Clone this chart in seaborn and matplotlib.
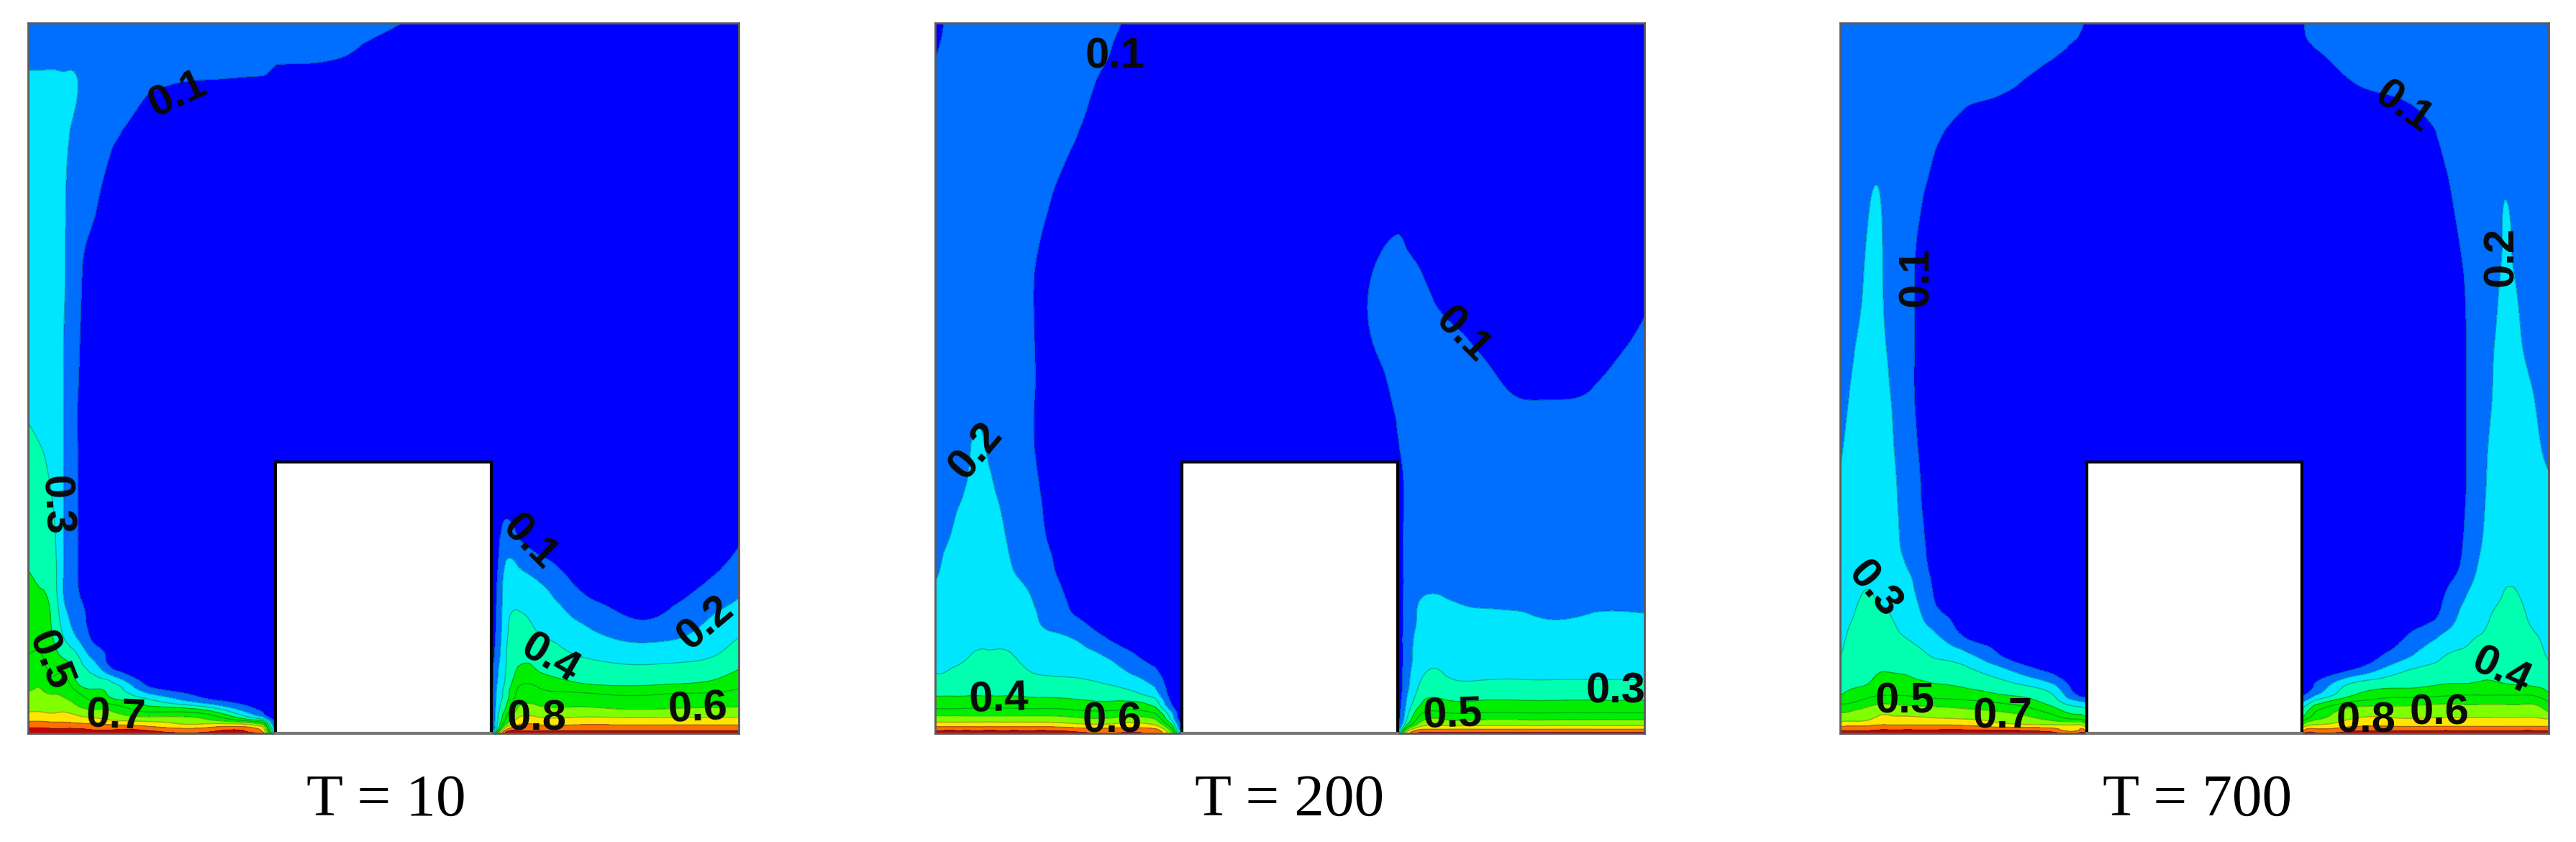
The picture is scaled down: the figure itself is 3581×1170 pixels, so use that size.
import numpy as np
import matplotlib
matplotlib.use("Agg")
import matplotlib.pyplot as plt
from matplotlib.patches import Rectangle
from matplotlib.tri import Triangulation, UniformTriRefiner
import seaborn as sns

sns.set_theme(style="white")

# ---------- data (values in percent) ----------
Y_ROWS = [0, .005, .012, .02, .03, .042, .055, .07, .09, .11, .135, .16, .19, .23, .28,
          .34, .40, .47, .55, .65, .75, .85, .92, .97, 1]

X_T10 = [0, .02, .035, .05, .07, .09, .12, .17, .25, .33, .35, .45, .55, .65, .66, .672,
         .69, .72, .77, .83, .89, .95, 1]
COLS_T10 = [
    [98,93,85,77,70,65,61,57,53,50,47,45,43,40,36,33,31,29,27,26,25,23,21,17,15],
    [98,93,85,77,70,65,61,58,53,50,47,44,41,38,35,33,30,28,26,25,24,23,21,17,14],
    [98,92,84,76,69,64,60,53,48,44,40,38,36,34,32,29,27,26,25,24,24,23,21,17,13],
    [97,92,84,76,70,64,59,55,47,38,30,25,20,20,20,20,20,20,20,21,21,22,21,16,12],
    [97,92,83,74,66,58,52,40,35,30,19,14,11,10,10,10,10,10,11,12,14,17,20,15,12],
    [96,90,82,72,63,53,44,36,27,17,9,8,7,7,7,7,7,7,7,8,11,13,15,13,11],
    [96,90,80,68,60,48,37,31,10,7,6,6,6,6,6,6,6,6,6,6,7,11,13,12,11],
    [95,88,76,65,50,36,21,7,5,5,5,5,5,5,5,5,5,5,5,5,5,7,11,12,11],
    [94,85,72,60,45,20,7,5,5,5,5,5,5,5,5,5,5,5,5,5,5,6,10,11,11],
    [88,78,62,30,10,5,5,5,5,5,5,5,5,5,5,5,5,5,5,5,5,5,9.5,11.5,11],
    [20,8,5,5,5,5,5,5,5,5,5,5,5,5,5,5,5,5,5,5,5,5,8.5,11,11],
    [5,5,5,5,5,5,5,5,5,5,5,5,5,5,5,5,5,5,5,5,5,5,8,10.5,12],
    [5,5,5,5,5,5,5,5,5,5,5,5,5,5,5,5,5,5,5,5,5,5,6,7,9],
    [20,6,5,5,5,5,5,5,5,5,5,5,5,5,5,5,5,5,5,5,5,5,5,5,6],
    [60,35,30,28,26,24,22,20,18,15,13,12,11,9,7,5,5,5,5,5,5,5,5,5,5],
    [92,80,60,50,44,38,35,32,30,29,28,27,25,22,13,7,5,5,5,5,5,5,5,5,5],
    [96,88,80,72,64,58,53,48,41,38,35,32,27,21,9,5,5,5,5,5,5,5,5,5,5],
    [96,88,80,72,64,58,53,47,39,36,31,27,24,15,5,5,5,5,5,5,5,5,5,5,5],
    [96,88,80,72,64,58,52,41,35,30,25,20,13,7,4,4,4,4,4,4,4,4,4,4,4],
    [96,88,80,72,63,56,49,38,32,26,19,12,7,4,4,4,4,4,4,4,4,4,4,4,4],
    [96,88,80,72,63,56,50,39,32,26,18,11,7,4,4,4,4,4,4,4,4,4,4,4,4],
    [96,88,80,72,64,57,51,41,34,28,23,19,13,7,3,3,3,3,3,3,3,3,3,3,3],
    [96,88,80,72,64,58,53,47,40,35,30,25,20,14,8,4,4,4,4,4,4,4,4,4,4],
]

X_T200 = [0, .012, .03, .05, .068, .085, .11, .14, .19, .25, .31, .335, .35, .45, .55, .61,
          .65, .665, .69, .72, .77, .83, .88, .93, 1]
COLS_T200 = [
    [95,88,75,65,54,45,39,34,29,27,26,24,22,19,18,17,16,15,15,15,15,14,12,9,8],
    [95,88,75,65,54,45,39,34,29,27,26,25,23,21,19,18,17,15,15,15,15,15,13,11,10],
    [95,88,75,65,54,45,39,35,31,28,27,26,25,23,21,19,17,16,15,15,15,15,14,13,12],
    [95,88,75,65,54,46,39,35,32,30,27,26,25,24,23,21,20,18,16,15,15,15,14,13,13],
    [95,88,75,65,54,46,39,36,33,31,28,27,26,25,24,22,20.5,18,16,15,15,15,14,13,13],
    [95,88,75,65,54,46,39,36,33,31,28,27,25,24,22,20,18,16,15,15,15,15,14,14,14],
    [95,88,75,65,54,46,39,35,32,30,27,26,23,20,18,17,16,15,15,15,15,15,15,15,14],
    [95,88,75,65,54,45,38,33,29,26,23,21,19,15,12,11,10,10,10,10,12,13,14,15,15],
    [93,86,73,63,53,44,37,32,28,25,20,12,9,7,7,7,7,7,7,7,8,11,13,14,15],
    [90,84,72,62,52,42,35,29,23,17,8,6,6,6,6,6,6,6,6,6,6,6,8,10,11],
    [88,83,70,60,48,36,25,18,11,6,5,5,5,5,5,5,5,5,5,5,5,5,6,6,7],
    [60,50,38,25,18,8,5,5,5,5,5,5,5,5,5,5,5,5,5,5,5,5,5,5,5],
    [20,8,5,5,5,5,5,5,5,5,5,5,5,5,5,5,5,5,5,5,5,5,5,5,5],
    [5,5,5,5,5,5,5,5,5,5,5,5,5,5,5,5,5,5,5,5,5,5,5,5,5],
    [5,5,5,5,5,5,5,5,5,5,5,5,5,5,5,5,5,5,5,5,5,5,5,5,5],
    [5,5,5,5,5,5,5,5,5,5,5,5,5,5,5,5,5,5,9,9,5,4,4,4,4],
    [20,8,5,5,5,5,5,5,5,5,5,5,5,5,5,5,8,11,14,13,7,4,4,4,4],
    [75,60,40,30,26,22,19,17,16,15,15,14,14,13,13,12,13,13,14,12,6,4,4,4,4],
    [92,82,68,59,50,42,37,33,29,27,25,23,20.5,16,15,14,13,13,12,9.5,5,4,4,4,4],
    [92,82,68,59,49,42,36,32,29,27,25,23,20,16,15,14,13,12,11,7,4,4,4,4,4],
    [92,82,68,59,49,42,36,31,28,26,24,22,18,15,14,13,12,11,9.5,6,4,4,4,4,4],
    [92,82,68,59,49,42,36,31,28,26,24,21,18,15,14,13,12,10,8,5,4,4,4,4,4],
    [92,82,68,59,49,42,36,31,28,26,24,20,17,15,14,13,12,10,7,5,4,4,4,4,4],
    [92,82,68,59,49,42,36,31,28,26,24,21,18,15,14,13,12,10.5,8,5,4,4,4,4,4],
    [92,82,68,59,49,42,36,31,28,26,24,21,18,16,15,15,14,13,11,8,5,4,4,4,4],
]

X_T700 = [0, .012, .022, .04, .056, .07, .085, .105, .135, .18, .24, .3, .335, .35, .45, .55,
          .65, .67, .72, .78, .84, .88, .905, .92, .938, .96, .98, 1]
COLS_T700 = [
    [97,88,76,66,59,49,39,36,33,29.5,27,26,25,24,23,21,19,17,16,15,15,15,15,15,15],
    [97,88,77,67,60,50,42,37,34,33,31,29,27,26,25,24,22,20,18,16,15,15,15,15,15],
    [97,88,77,67,62,52,44,38,36,34,33,31,29,27,26,25,24,22,20,17,15,15,15,15,15],
    [97,88,78,69,65,56,47,40,37,36,35,33,31,28,27,26,25,24,23,22,19,15,15,15,15],
    [97,90,80,72,68,59,49,44,39,37,35,33,29,27,26,25,25,24,23,22,20.5,15,15,15,15],
    [97,90,80,72,68,59,49,44,39,36,34,31,28,26,25,24,22,20.5,18,16,15,15,15,15,15],
    [97,90,80,72,67,58,49,43,39,36,31,28,26,22,19.5,18,17,16,15,15,15,15,15,15,15],
    [97,90,80,72,66,57,48,42,37,33,28,24,21,17,14,12,11,10,10,10,11.5,14,15,15,15],
    [97,90,80,71,65,56,46,40,34,29,22,14,9,7,6,6,6,6,6,7,8,11,14,15,15],
    [96,90,78,70,63,54,44,37,31,22,9,7,5,5,5,5,5,5,5,5,5,8,12,14,15],
    [95,88,72,66,59,49,39,31,19,7,5,5,5,5,5,5,5,5,5,5,5,6,11,13,14],
    [93,84,70,57,47,37,30,20,7,5,5,5,5,5,5,5,5,5,5,5,5,5,7,12,13],
    [90,78,70,50,37,25,9,5,5,5,5,5,5,5,5,5,5,5,5,5,5,5,5,9,11],
    [85,70,55,40,30,20,8,5,5,5,5,5,5,5,5,5,5,5,5,5,5,5,5,7,9],
    [5,5,5,5,5,5,5,5,5,5,5,5,5,5,5,5,5,5,5,5,5,5,5,5,5],
    [5,5,5,5,5,5,5,5,5,5,5,5,5,5,5,5,5,5,5,5,5,5,5,5,5],
    [85,70,55,40,30,20,8,5,5,5,5,5,5,5,5,5,5,5,5,5,5,5,5,8,9],
    [93,82,70,58,50,37,18,10,5,5,5,5,5,5,5,5,5,5,5,5,5,5,6,10.5,12],
    [95,86,76,70,65,53,38,30,9,5,5,5,5,5,5,5,5,5,5,5,5,5,10,13,14],
    [96,88,77,71,66,57,46,36,25,13,7,5,5,5,5,5,5,5,5,5,5,6,12,14,15],
    [96,88,77,71,66,59,47,39,33,27,19,10,7,5,5,5,5,5,5,5,6,10,14,15,15],
    [96,88,77,71,66,59,49,40,35,32,27,23,19,12,10,9,9,9,9,10,13,15,15,15,15],
    [96,88,77,71,66,59,49,41,37,35,31,27,25,22,19,17,16,15,15,15,15,15,15,15,15],
    [96,88,77,71,66,59,49,41,38,36,33,31,27,25,24,23,22,20,19,17,15,15,15,15,15],
    [96,88,77,71,66,59,49,40,37,36,34,33,31,28,26,25,24,23,23,21,20,15,15,15,15],
    [96,88,77,71,66,59,49,39,36,35,33,32,30,27,25,24,23,22,20.5,18,16,15,15,15,15],
    [96,88,77,71,66,59,48,38,35,33,31,28,26,25,24,22,21,20,18,16,15,15,15,15,15],
    [96,88,77,70,60,52,41,36,32,29,27,26,25,24,23,21,19,17,16,15,15,15,15,15,15],
]

LEVELS = [0, 10, 20, 30, 40, 50, 60, 70, 80, 90, 100]
TITLES = ["T = 10", "T = 200", "T = 700"]

LABELS_T10 = ["0.1", "0.3", "0.5", "0.7", "0.1", "0.2", "0.4", "0.6", "0.8"]
LABELS_T200 = ["0.1", "0.1", "0.2", "0.4", "0.6", "0.5", "0.3"]
LABELS_T700 = ["0.1", "0.1", "0.2", "0.3", "0.5", "0.7", "0.8", "0.6", "0.4"]

# ---------- layout and style ----------
W, H = 3581, 1170
PANEL_PX = [(39, 1027), (1300, 2286), (2558, 3543)]
TOP_PX, BOTTOM_PX = 32, 1019
BLOCK = (0.348, 0.652, 0.382)
TITLE_X_PX = [537, 1793, 3055]
TITLE_Y_PX = 1113
COLORS = sns.color_palette(["#0000FF", "#006EFF", "#00E6FF", "#00FFAF", "#00EE00",
                            "#00EE00", "#80FF00", "#FFE600", "#FF7000", "#C80000"])
LABEL_POS_T10 = [(.211, .899, 25), (.038, .321, -87), (.030, .102, -68), (.123, .023, -3),
                 (.706, .269, -45), (.954, .155, 40), (.734, .104, -30), (.942, .034, 3),
                 (.716, .020, 0)]
LABEL_POS_T200 = [(.254, .952, 0), (.744, .560, -45), (.058, .397, 50), (.090, .047, 2),
                  (.250, .017, 0), (.730, .025, 2), (.959, .059, 0)]
LABEL_POS_T700 = [(.795, .881, -35), (.108, .643, 90), (.934, .671, 90), (.048, .202, -50),
                  (.091, .045, 0), (.230, .023, 0), (.742, .017, 0), (.846, .028, 0),
                  (.933, .087, -25)]

fig = plt.figure(figsize=(W / 100, H / 100), dpi=100, facecolor="white")


def smooth_triangulation(xs, ys, Z):
    """Let matplotlib's cubic refiner round the grid, working in grid-index space."""
    ni, nj = Z.shape
    jj, ii = np.meshgrid(np.arange(nj, dtype=float), np.arange(ni, dtype=float))
    base = Triangulation(jj.ravel(), ii.ravel())
    fine, zf = UniformTriRefiner(base).refine_field(Z.ravel(), subdiv=3)
    return (Triangulation(np.interp(fine.x, np.arange(nj), xs),
                          np.interp(fine.y, np.arange(ni), ys), fine.triangles),
            np.clip(zf, 0.5, 99.5))


panels = [
    (X_T10, COLS_T10, LABELS_T10, LABEL_POS_T10),
    (X_T200, COLS_T200, LABELS_T200, LABEL_POS_T200),
    (X_T700, COLS_T700, LABELS_T700, LABEL_POS_T700),
]
for i, (xs, cols, labs, pos) in enumerate(panels):
    x0, x1 = PANEL_PX[i]
    ax = fig.add_axes([x0 / W, 1 - BOTTOM_PX / H, (x1 - x0) / W, (BOTTOM_PX - TOP_PX) / H])
    Z = np.array(cols, dtype=float).T
    tri, zf = smooth_triangulation(xs, Y_ROWS, Z)
    ax.tricontourf(tri, zf, levels=LEVELS, colors=COLORS)
    ax.tricontour(tri, zf, levels=LEVELS[1:-1], colors="#003040", linewidths=1.0, alpha=0.35)
    ax.add_patch(Rectangle((BLOCK[0], -0.01), BLOCK[1] - BLOCK[0], BLOCK[2] + 0.01,
                           facecolor="white", edgecolor="black", linewidth=3, zorder=3))
    ax.plot([BLOCK[0], BLOCK[1]], [0, 0], color="#777777", lw=3, zorder=4, clip_on=False)
    for lab, (lx, ly, rot) in zip(labs, pos):
        ax.text(lx, ly, lab, rotation=rot, rotation_mode="anchor", ha="center", va="center",
                fontsize=43, fontweight="bold", family="Liberation Sans", color="#0a0a0a",
                clip_on=True, zorder=5)
    ax.set_xlim(0, 1)
    ax.set_ylim(0, 1)
    ax.set_xticks([])
    ax.set_yticks([])
    ax.grid(False)
    for s in ax.spines.values():
        s.set_color("#5a5a5a")
        s.set_linewidth(2)
        s.set_visible(True)
    fig.text(TITLE_X_PX[i] / W, 1 - TITLE_Y_PX / H, TITLES[i], ha="center", va="center",
             fontsize=60, family="Liberation Serif", color="black")

fig.savefig("out.png", dpi=100)
